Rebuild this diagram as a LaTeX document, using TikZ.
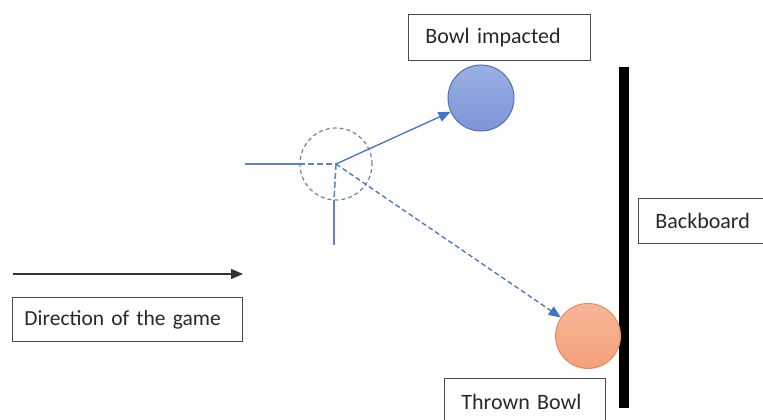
\documentclass[tikz,border=0pt]{standalone}
\usepackage{fontspec}
\setmainfont{Carlito}
\usetikzlibrary{arrows.meta}
\definecolor{arrblue}{RGB}{68,114,196}
\definecolor{lineblue}{RGB}{95,130,200}
\definecolor{dashgray}{RGB}{115,128,160}
\definecolor{bowltop}{RGB}{155,175,228}
\definecolor{bowlbot}{RGB}{125,150,215}
\definecolor{bowldraw}{RGB}{85,110,180}
\definecolor{ortop}{RGB}{248,182,152}
\definecolor{orbot}{RGB}{243,160,122}
\definecolor{ordraw}{RGB}{232,140,95}
\definecolor{boxdraw}{RGB}{75,75,75}
\definecolor{txt}{RGB}{40,40,40}
\tikzset{
  lbl/.style={draw=boxdraw, line width=0.9pt, fill=white, inner ysep=0pt, align=left,
    font=\fontsize{22}{26}\selectfont, text=txt},
  ball/.style={circle, inner sep=0pt, line width=1pt},
}
\begin{document}
\begin{tikzpicture}[x=1pt,y=-1pt]
\useasboundingbox (0,0) rectangle (763,420);
% backboard
\fill[black] (619,67) rectangle (629,408);
% labels
\node[lbl, minimum height=46pt, inner xsep=17pt, text width=148pt, anchor=north west] (bi) at (408,14) {Bowl impacted};
\node[lbl, minimum height=45pt, inner xsep=17pt, text width=91pt, anchor=north west] (bb) at (638,198) {Backboard};
\node[lbl, minimum height=46pt, inner xsep=17pt, text width=127pt, anchor=north west] (tb) at (444,378) {Thrown Bowl};
\node[lbl, minimum height=44pt, inner xsep=12pt, text width=206pt, anchor=north west, font=\fontsize{21.5}{26}\selectfont] (dg) at (12,297) {Direction of the game};
% direction arrow
\coordinate (ds) at (13,274);
\coordinate (de) at (243,274);
\draw[line width=1.3pt, black!80, -{Triangle[length=12pt,width=10pt]}] (ds) -- (de);
% bowls
\node[ball, draw=bowldraw, top color=bowltop, bottom color=bowlbot, minimum size=66pt] (b1) at (481,98) {};
\node[ball, draw=ordraw, top color=ortop, bottom color=orbot, minimum size=65pt] (b2) at (588,336) {};
% dashed impact circle
\node[circle, draw=dashgray, dash pattern=on 4pt off 3pt, line width=1.2pt, minimum size=72pt, inner sep=0pt] (ic) at (336,164) {};
\coordinate (c) at (ic.center);
% cross lines
\coordinate (hl) at (245,164);
\coordinate (vb) at (334,245);
\draw[lineblue, line width=1.6pt] (hl) -- (ic.west);
\draw[lineblue, line width=1.6pt, dash pattern=on 6pt off 3pt] (ic.west) -- (c);
\draw[lineblue, line width=1.6pt, dash pattern=on 6pt off 3pt] (c) -- (334,200);
\draw[lineblue, line width=1.6pt] (334,200) -- (vb);
% arrows
\draw[arrblue, line width=1.3pt, -{Triangle[length=12pt,width=10pt]}] (c) -- (b1);
\draw[arrblue, line width=1.3pt, dash pattern=on 5pt off 3pt, -{Triangle[length=12pt,width=10pt]}] (c) -- (b2);
\end{tikzpicture}
\end{document}
